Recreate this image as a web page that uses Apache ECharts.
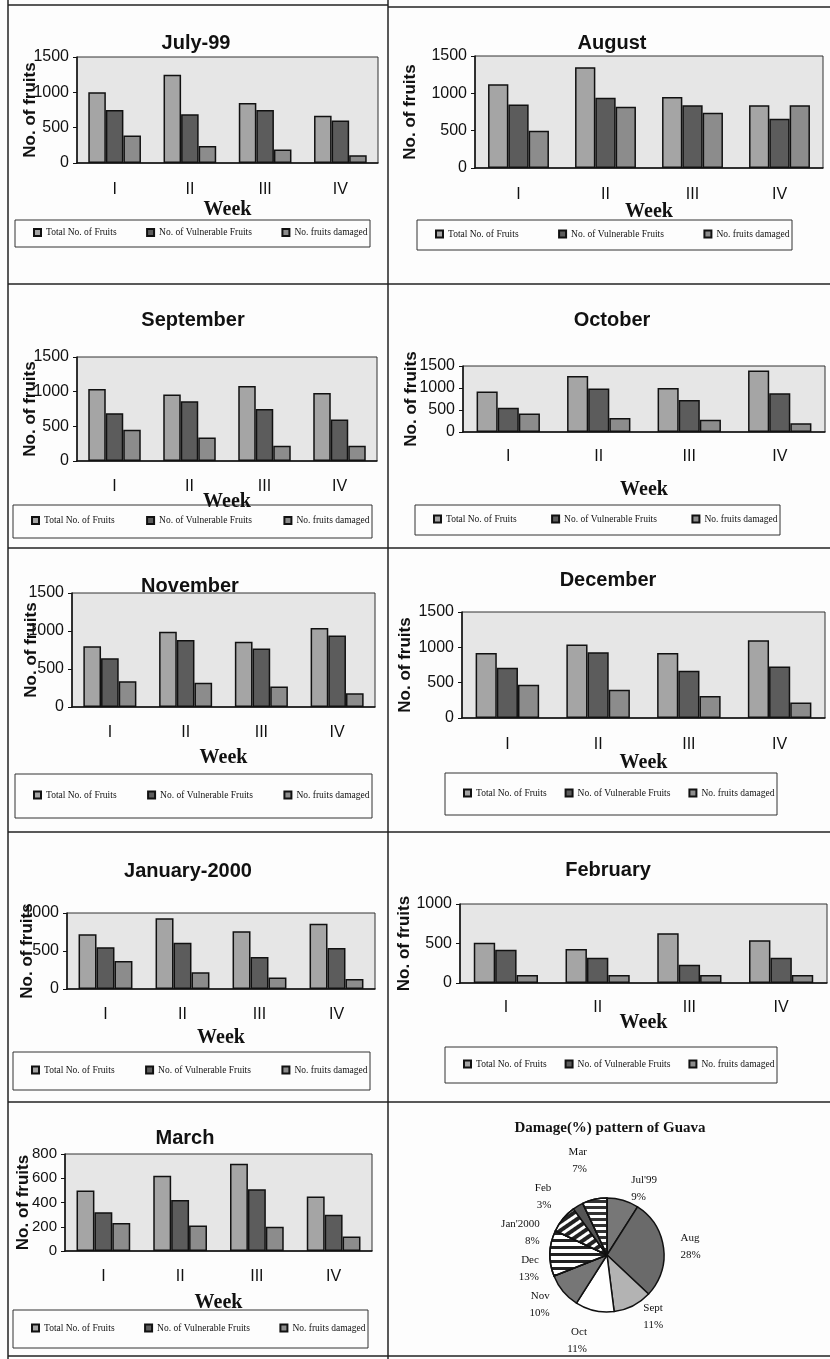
<!DOCTYPE html>
<html>
<head>
<meta charset="utf-8">
<script src="https://cdn.jsdelivr.net/npm/echarts@6/dist/echarts.min.js"></script>
<style>
  html, body { margin: 0; padding: 0; background: #fff; }
  #main { width: 830px; height: 1359px; }
</style>
</head>
<body>
<div id="main"></div>
<script>
// data
var weeks = ['I', 'II', 'III', 'IV'];
var months = ['July-99', 'August', 'September', 'October', 'November', 'December', 'January-2000', 'February', 'March'];
var seriesNames = ['Total No. of Fruits', 'No. of Vulnerable Fruits', 'No. fruits damaged'];
var totalFruits = [
    [1000, 1250, 850, 670],
    [1120, 1350, 950, 840],
    [1040, 960, 1080, 980],
    [920, 1270, 1000, 1400],
    [800, 990, 860, 1040],
    [920, 1040, 920, 1100],
    [720, 930, 760, 860],
    [510, 430, 630, 540],
    [500, 620, 720, 450]
];
var vulnerableFruits = [
    [750, 690, 750, 600],
    [850, 940, 840, 660],
    [690, 860, 750, 600],
    [550, 990, 730, 880],
    [640, 880, 770, 940],
    [710, 930, 670, 730],
    [550, 610, 420, 540],
    [420, 320, 230, 320],
    [320, 420, 510, 300]
];
var damagedFruits = [
    [390, 240, 190, 110],
    [500, 820, 740, 840],
    [450, 340, 220, 220],
    [420, 320, 280, 200],
    [340, 320, 270, 180],
    [470, 400, 310, 220],
    [370, 220, 150, 130],
    [100, 100, 100, 100],
    [230, 210, 200, 120]
];
var yMax = [1500, 1500, 1500, 1500, 1500, 1500, 1000, 1000, 800];
var yStep = [500, 500, 500, 500, 500, 500, 500, 500, 200];

var pieNames = ["Jul'99", 'Aug', 'Sept', 'Oct', 'Nov', 'Dec', "Jan'2000", 'Feb', 'Mar'];
var pieValues = [9, 28, 11, 11, 10, 13, 8, 3, 7];

// layout of each small chart: title centre, plot box [left, top, width, height],
// gaps for axis names / labels, legend box [x, y, w, h]
var panels = [
    {t: [196, 45],  g: [77, 57, 301, 106],   yGap: 38, wGap: 37, lm: 19, lg: [15, 220, 355, 27]},
    {t: [612, 45],  g: [475, 56, 348, 112],  yGap: 56, wGap: 34, lm: 19, lg: [417, 220, 375, 30]},
    {t: [193, 322], g: [77, 357, 300, 104],  yGap: 38, wGap: 31, lm: 18, lg: [13, 505, 359, 33]},
    {t: [612, 322], g: [463, 366, 362, 66],  yGap: 43, wGap: 48, lm: 17, lg: [415, 505, 365, 30]},
    {t: [190, 588], g: [72, 593, 303, 114],  yGap: 32, wGap: 41, lm: 18, lg: [15, 774, 357, 44]},
    {t: [608, 582], g: [462, 612, 363, 106], yGap: 48, wGap: 35, lm: 19, lg: [445, 773, 332, 42]},
    {t: [188, 873], g: [67, 913, 308, 76],   yGap: 31, wGap: 39, lm: 18, lg: [13, 1052, 357, 38]},
    {t: [608, 872], g: [460, 904, 367, 79],  yGap: 47, wGap: 30, lm: 17, lg: [445, 1047, 332, 36]},
    {t: [185, 1140], g: [65, 1154, 307, 97], yGap: 33, wGap: 42, lm: 18, lg: [13, 1310, 355, 38]}
];

var barColors = ['#a5a5a5', '#5c5c5c', '#8c8c8c'];
var sansFont = 'Liberation Sans, Arial, sans-serif';
var serifFont = 'Liberation Serif, Times New Roman, serif';

var dom = document.getElementById('main');
var myChart = echarts.init(dom);

var titles = [], grids = [], xAxes = [], yAxes = [], legends = [], series = [], graphics = [];

panels.forEach(function (p, i) {
    titles.push({
        text: months[i],
        left: p.t[0], top: p.t[1] - 12,
        textAlign: 'center',
        padding: 0,
        textStyle: {fontFamily: sansFont, fontSize: 20, fontWeight: 'bold', color: '#111'}
    });
    grids.push({
        left: p.g[0], top: p.g[1], width: p.g[2], height: p.g[3],
        show: true, backgroundColor: '#e6e6e6', borderColor: '#333', borderWidth: 1
    });
    xAxes.push({
        type: 'category', gridIndex: i, data: weeks,
        name: 'Week', nameLocation: 'middle', nameGap: p.wGap, nameMoveOverlap: false,
        nameTextStyle: {fontFamily: serifFont, fontSize: 20, fontWeight: 'bold', color: '#111'},
        axisLine: {lineStyle: {color: '#111', width: 1.5}},
        axisTick: {length: 5, lineStyle: {color: '#111'}},
        axisLabel: {margin: p.lm, fontFamily: sansFont, fontSize: 16, color: '#111'}
    });
    yAxes.push({
        type: 'value', gridIndex: i, min: 0, max: yMax[i], interval: yStep[i],
        name: 'No. of fruits', nameLocation: 'middle', nameGap: p.yGap, nameMoveOverlap: false,
        nameTextStyle: {fontFamily: sansFont, fontSize: 17, fontWeight: 'bold', color: '#111'},
        axisLine: {show: true, lineStyle: {color: '#111', width: 1.5}},
        axisTick: {show: true, length: 4, lineStyle: {color: '#111'}},
        axisLabel: {
            margin: 8, fontFamily: sansFont, fontSize: i === 8 ? 15 : 16, color: '#111',
            formatter: function (v) { return String(v); }
        },
        splitLine: {show: false}
    });
    var cols = [totalFruits[i], vulnerableFruits[i], damagedFruits[i]];
    cols.forEach(function (vals, k) {
        series.push({
            type: 'bar', name: seriesNames[k], xAxisIndex: i, yAxisIndex: i,
            data: vals, barGap: '0%', barCategoryGap: '30%',
            itemStyle: {color: barColors[k], borderColor: '#111', borderWidth: 1.5}
        });
    });
    // legend box
    graphics.push({
        type: 'rect', shape: {x: p.lg[0], y: p.lg[1], width: p.lg[2], height: p.lg[3]},
        style: {fill: 'none', stroke: '#333', lineWidth: 1}
    });
    legends.push({
        left: p.lg[0] + 18, top: p.lg[1] + p.lg[3] / 2 - 6,
        icon: 'rect', itemWidth: 7, itemHeight: 7, itemGap: Math.max(12, (p.lg[2] - 296) / 2),
        selectedMode: false, padding: 0,
        textStyle: {fontFamily: serifFont, fontSize: 9.5, color: '#111'},
        data: seriesNames
    });
});

// pie panel
titles.push({
    text: 'Damage(%) pattern of Guava',
    left: 610, top: 1121, textAlign: 'center', padding: 0,
    textStyle: {fontFamily: serifFont, fontSize: 15, fontWeight: 'bold', color: '#111'}
});
var pieStyles = [
    {color: '#777777'},
    {color: '#6a6a6a'},
    {color: '#b3b3b3'},
    {color: '#ffffff'},
    {color: '#767676'},
    {color: '#ffffff', decal: {symbol: 'rect', symbolSize: 1, dashArrayX: [1, 0], dashArrayY: [3, 4], color: '#222'}},
    {color: '#ffffff', decal: {symbol: 'rect', symbolSize: 1, dashArrayX: [1, 0], dashArrayY: [4, 3], rotation: -0.6, color: '#222'}},
    {color: '#555555'},
    {color: '#ffffff', decal: {symbol: 'rect', symbolSize: 1, dashArrayX: [1, 0], dashArrayY: [3, 3], color: '#333'}}
];
series.push({
    type: 'pie', center: [607, 1255], radius: 57, startAngle: 90,
    data: pieNames.map(function (n, k) {
        return {name: n, value: pieValues[k], itemStyle: pieStyles[k]};
    }),
    itemStyle: {borderColor: '#111', borderWidth: 1.5},
    label: {
        show: true, position: 'outside', formatter: '{b}\n{c}%',
        fontFamily: serifFont, fontSize: 11, color: '#111', lineHeight: 17, align: 'center'
    },
    labelLine: {show: false, length: 12, length2: 0},
    emphasis: {disabled: true}
});

// panel frames
var frameLines = [
    [8, 5, 388, 5], [388, 7, 830, 7],
    [8, 284, 830, 284], [8, 548, 830, 548], [8, 832, 830, 832], [8, 1102, 830, 1102],
    [8, 1356, 830, 1356],
    [8, 0, 8, 1359], [388, 0, 388, 1359]
];
frameLines.forEach(function (l) {
    graphics.push({
        type: 'line', shape: {x1: l[0], y1: l[1], x2: l[2], y2: l[3]},
        style: {stroke: '#222', lineWidth: 1.5}
    });
});

var option = {
    backgroundColor: '#fdfdfd',
    animation: false,
    title: titles,
    grid: grids,
    xAxis: xAxes,
    yAxis: yAxes,
    legend: legends,
    series: series,
    graphic: graphics
};
myChart.setOption(option, true);
</script>
</body>
</html>
